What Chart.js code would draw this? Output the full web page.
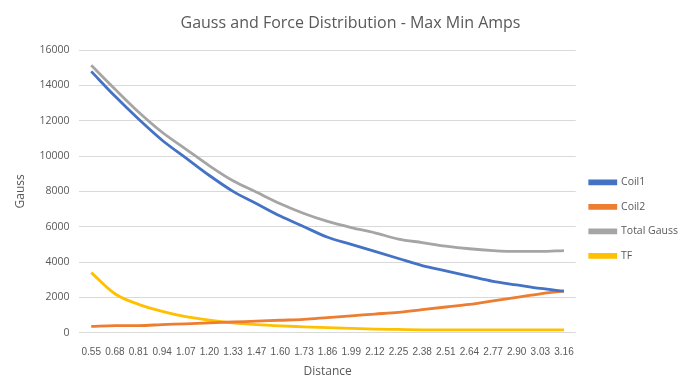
<!DOCTYPE html>
<html>
<head>
<meta charset="utf-8">
<script src="https://cdn.jsdelivr.net/npm/chart.js@4/dist/chart.umd.min.js"></script>
<style>
  html, body { margin: 0; padding: 0; background: #fff; }
  #wrap { width: 690px; height: 392px; position: relative; }
</style>
</head>
<body>
<div id="wrap"><canvas id="c" width="690" height="392"></canvas></div>
<script>
const distances = ["0.55","0.68","0.81","0.94","1.07","1.20","1.33","1.47","1.60","1.73","1.86","1.99","2.12","2.25","2.38","2.51","2.64","2.77","2.90","3.03","3.16"];
const coil1 = [14800,13400,12100,10900,9900,8900,8000,7300,6600,6000,5400,5000,4600,4200,3800,3500,3200,2900,2700,2500,2350];
const coil2 = [350,400,400,450,500,550,600,650,700,750,850,950,1050,1150,1300,1450,1600,1800,2000,2200,2350];
const totalGauss = [15150,13800,12500,11350,10400,9450,8600,7950,7300,6750,6300,5950,5650,5300,5100,4900,4750,4650,4600,4600,4650];
const tf = [3400,2200,1600,1200,900,700,550,450,380,330,280,240,200,180,160,150,150,150,150,150,150];
const yTicks = [0,2000,4000,6000,8000,10000,12000,14000,16000];

const sans = "'Open Sans', sans-serif";
const txt = '#595959';

function ds(label, data, color) {
  return { label, data, borderColor: color, backgroundColor: color, borderWidth: 2.8,
           pointRadius: 0, pointHoverRadius: 0, tension: 0.4, fill: false, cubicInterpolationMode: 'monotone' };
}

new Chart(document.getElementById('c'), {
  type: 'line',
  data: {
    labels: distances,
    datasets: [
      ds('Coil1', coil1, '#4472C4'),
      ds('Coil2', coil2, '#ED7D31'),
      ds('Total Gauss', totalGauss, '#A5A5A5'),
      ds('TF', tf, '#FFC000')
    ]
  },
  options: {
    responsive: false,
    animation: false,
    layout: { padding: { left: 13, right: 2, top: 10, bottom: 6 } },
    plugins: {
      title: { display: true, text: 'Gauss and Force Distribution - Max Min Amps',
               color: txt, font: { family: sans, size: 16, weight: 'normal' },
               padding: { top: 4, bottom: 17 } },
      legend: { position: 'right',
                title: { display: true, text: ' ', padding: 14, font: { size: 12 } },
                labels: { color: txt, boxWidth: 26, boxHeight: 3, padding: 14,
                          font: { family: sans, size: 10.5 } } },
      tooltip: { enabled: false }
    },
    scales: {
      x: {
        offset: true,
        grid: { display: false },
        border: { display: false },
        ticks: { color: txt, autoSkip: false, maxRotation: 0, minRotation: 0, padding: 6,
                 font: { family: "'Liberation Sans', sans-serif", size: 10 } },
        title: { display: true, text: 'Distance', color: txt,
                 font: { family: sans, size: 12 }, padding: { top: 0, bottom: 7 } }
      },
      y: {
        min: 0, max: 16000,
        afterBuildTicks: (s) => { s.ticks = yTicks.map(v => ({ value: v })); },
        grid: { color: '#d9d9d9', drawTicks: false, lineWidth: 1 },
        border: { display: false },
        ticks: { color: txt, padding: 10, font: { family: sans, size: 10.5 },
                 callback: (v) => String(v) },
        title: { display: true, text: 'Gauss', color: txt,
                 font: { family: sans, size: 12 }, padding: { top: 0, bottom: 2 } }
      }
    }
  }
});
</script>
</body>
</html>
